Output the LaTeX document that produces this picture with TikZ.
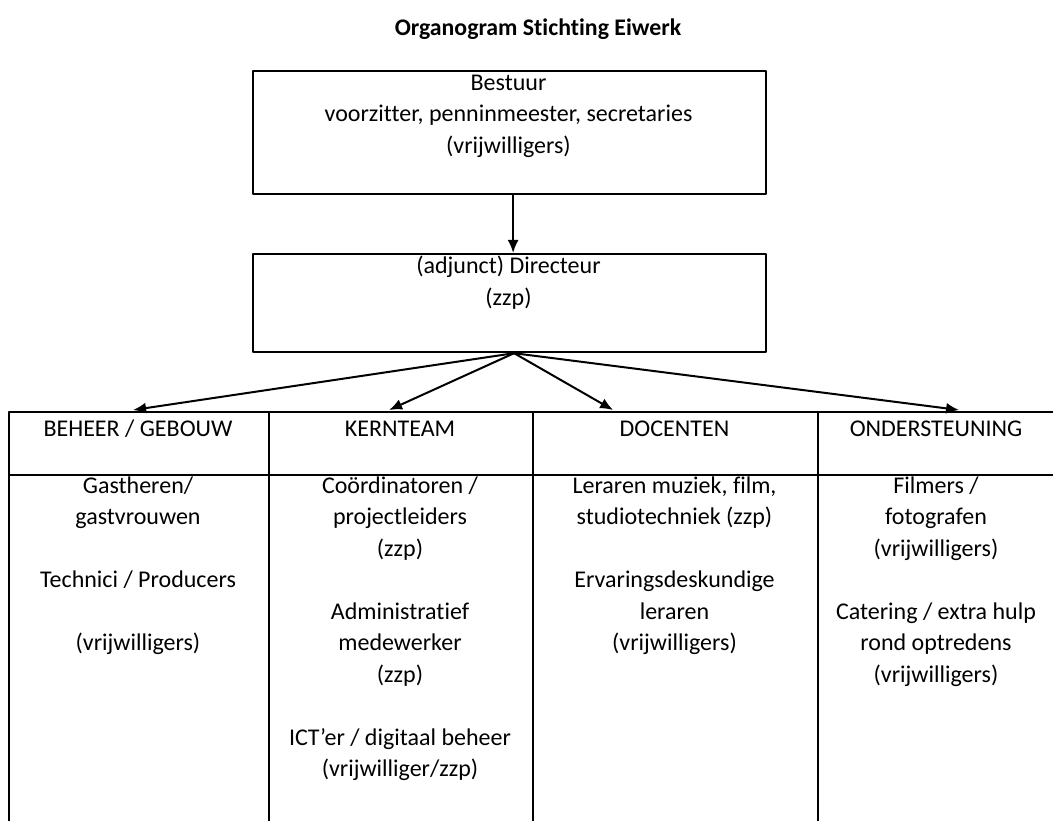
\documentclass[tikz,border=0pt]{standalone}
\usepackage{fontspec}
\setmainfont{Carlito}[Ligatures=NoCommon]
\usetikzlibrary{arrows.meta,positioning}
\begin{document}
\begin{tikzpicture}[x=1pt,y=-1pt,line join=round,line width=2pt,>={Latex[length=13pt,width=11pt]},
  box/.style={draw,line width=2.2pt,rectangle,inner sep=0pt,anchor=north west},
  txt/.style={align=center,inner sep=0pt,font=\fontsize{24}{31.5}\selectfont}]
\useasboundingbox (0,0) rectangle (1053,821);

\node[txt,font=\bfseries\fontsize{23.8}{28}\selectfont] (titel) at (538,29) {Organogram Stichting Eiwerk};

\node[box,minimum width=513,minimum height=123] (bestuur) at (252,70) {};
\node[box,minimum width=513,minimum height=98] (directeur) at (252,253) {};

\node[box,minimum width=260,minimum height=63] (beheer) at (8,411) {};
\node[box,minimum width=264,minimum height=63] (kernteam) at (268,411) {};
\node[box,minimum width=285,minimum height=63] (docenten) at (532,411) {};
\node[box,minimum width=241,minimum height=63] (ondersteuning) at (817,411) {};
\node[box,minimum width=260,minimum height=360] (beheerlijst) at (8,474) {};
\node[box,minimum width=264,minimum height=360] (kernlijst) at (268,474) {};
\node[box,minimum width=285,minimum height=360] (docentlijst) at (532,474) {};
\node[box,minimum width=241,minimum height=360] (steunlijst) at (817,474) {};

\node[txt] (bestuurtekst) at (508.5,116) {Bestuur\\voorzitter, penninmeester, secretaries\\(vrijwilligers)};
\node[txt] (directeurtekst) at (508.5,282.5) {(adjunct) Directeur\\(zzp)};

\node[txt] (beheerkop) at (138,429) {BEHEER / GEBOUW};
\node[txt] (kernkop) at (400,429) {KERNTEAM};
\node[txt] (docentkop) at (674.5,429) {DOCENTEN};
\node[txt] (steunkop) at (936,429) {ONDERSTEUNING};

\node[txt] (beheertekst) at (138,565.5) {Gastheren/\\gastvrouwen\\[31.5pt]Technici / Producers\\[31.5pt](vrijwilligers)};
\node[txt] (kerntekst) at (400,628.5) {Coördinatoren /\\projectleiders\\(zzp)\\[31.5pt]Administratief\\medewerker\\(zzp)\\[31.5pt]ICT’er / digitaal beheer\\(vrijwilliger/zzp)};
\node[txt] (docenttekst) at (674.5,565.5) {Leraren muziek, film,\\studiotechniek (zzp)\\[31.5pt]Ervaringsdeskundige\\leraren\\(vrijwilligers)};
\node[txt] (steuntekst) at (936,581.5) {Filmers /\\fotografen\\(vrijwilligers)\\[31.5pt]Catering / extra hulp\\rond optredens\\(vrijwilligers)};

\coordinate (top) at ([xshift=4.5pt]directeur.south);
\draw[->] ([xshift=3.5pt]bestuur.south) -- ([xshift=3.5pt]directeur.north);
\draw[->] (top) -- ([xshift=-6pt,yshift=1pt]beheer.north);
\draw[->] (top) -- ([xshift=-12pt,yshift=1pt]kernteam.north);
\draw[->] (top) -- ([xshift=-62.5pt,yshift=1pt]docenten.north);
\draw[->] (top) -- ([xshift=20.5pt,yshift=1pt]ondersteuning.north);
\end{tikzpicture}
\end{document}
